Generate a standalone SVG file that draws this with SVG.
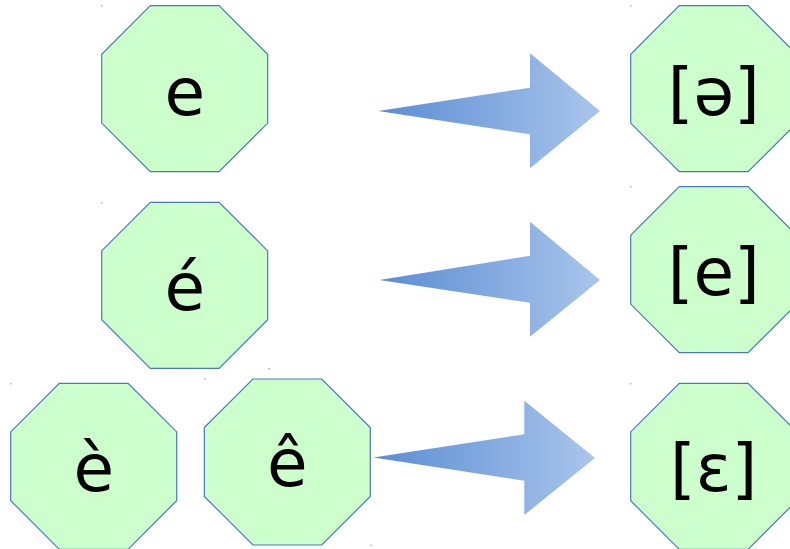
<svg xmlns="http://www.w3.org/2000/svg" width="790" height="549" viewBox="0 0 790 549">
<style>
.oct{fill:#ccffcc;stroke:#4a78bb;stroke-width:1.2}
.lbl{font-family:"DejaVu Sans",sans-serif;font-size:66px;fill:#000;text-anchor:middle}
.arr{fill:url(#ag)}
.dot{fill:#9db8de}
</style>
<defs>
<polygon id="octShape" points="48.6,0 117.4,0 166,48.6 166,117.4 117.4,166 48.6,166 0,117.4 0,48.6"/>
<linearGradient id="ag" x1="0" y1="0" x2="1" y2="0">
<stop offset="0" stop-color="#5a8dd4"/>
<stop offset="1" stop-color="#a9c5eb"/>
</linearGradient>
</defs>
<rect width="790" height="549" fill="#ffffff"/>
<g id="node-e">
<use href="#octShape" class="oct" x="101.7" y="5.7"/>
<text class="lbl" x="184.7" y="114.5">e</text>
</g>
<g id="node-e-acute">
<use href="#octShape" class="oct" x="101.7" y="202.3"/>
<text class="lbl" x="184.7" y="310">é</text>
</g>
<g id="node-e-grave">
<use href="#octShape" class="oct" x="10.7" y="383.3"/>
<text class="lbl" x="93.7" y="491">è</text>
</g>
<g id="node-e-circ">
<use href="#octShape" class="oct" x="204.3" y="379"/>
<text class="lbl" x="287.3" y="486">ê</text>
</g>
<g id="node-schwa">
<use href="#octShape" class="oct" x="630.7" y="5.7"/>
<text class="lbl" x="713.7" y="114.5">[ə]</text>
</g>
<g id="node-e-close">
<use href="#octShape" class="oct" x="630.7" y="186.7"/>
<text class="lbl" x="713.7" y="294.5">[e]</text>
</g>
<g id="node-epsilon">
<use href="#octShape" class="oct" x="630.7" y="383.3"/>
<text class="lbl" x="713.7" y="491">[ɛ]</text>
</g>
<g id="connectors">
<polygon class="arr" points="378.3,111 530,87.7 530,53.3 600,111 530,168.3 530,134.3"/>
<polygon class="arr" points="379.3,280 530,255.7 530,221.7 600,280 530,336.7 530,302.7"/>
<polygon class="arr" points="373.3,457.5 524.3,434.3 524.3,400.7 595,458 524.3,515 524.3,480.7"/>
</g>
<g id="markers">
<rect class="dot" x="101" y="5" width="1.5" height="1.5"/>
<rect class="dot" x="101" y="202" width="1.5" height="1.5"/>
<rect class="dot" x="630" y="5" width="1.5" height="1.5"/>
<rect class="dot" x="630" y="186" width="1.5" height="1.5"/>
<rect class="dot" x="630" y="383" width="1.5" height="1.5"/>
<rect class="dot" x="10" y="383" width="1.5" height="1.5"/>
<rect class="dot" x="204" y="378" width="1.5" height="1.5"/>
<rect class="dot" x="268.5" y="368" width="1.5" height="1.5"/>
<rect class="dot" x="370.5" y="544.5" width="1.5" height="1.5"/>
</g>
</svg>
